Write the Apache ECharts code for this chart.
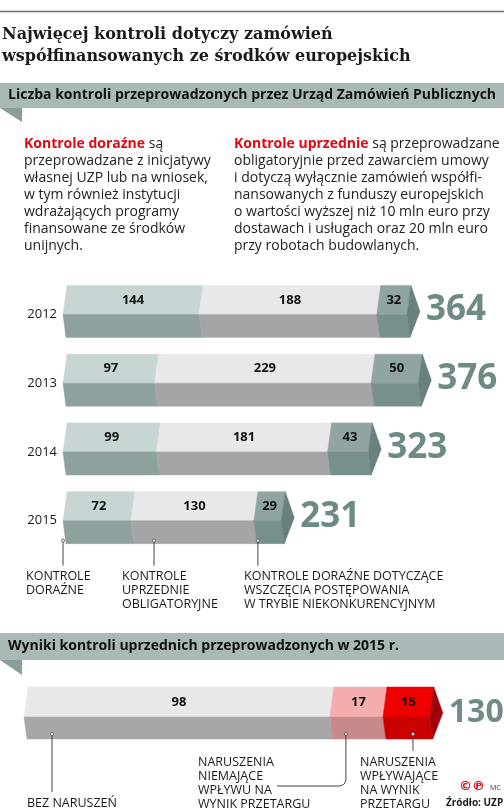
<!DOCTYPE html>
<html>
<head>
<meta charset="utf-8">
<script src="https://cdn.jsdelivr.net/npm/echarts@6/dist/echarts.min.js"></script>
<style>
  html, body { margin: 0; padding: 0; background: #fff; }
  #chart { width: 504px; height: 808px; }
</style>
</head>
<body>
<div id="chart"></div>
<script>
// dane: liczba kontroli UZP
const years = ['2012', '2013', '2014', '2015']
const dorazne = [144, 97, 99, 72]
const uprzednie = [188, 229, 181, 130]
const niekonkurencyjne = [32, 50, 43, 29]

// wyniki kontroli uprzednich w 2015 r.
const wynikiNames = ['BEZ NARUSZEŃ', 'NARUSZENIA NIEMAJĄCE WPŁYWU NA WYNIK PRZETARGU', 'NARUSZENIA WPŁYWAJĄCE NA WYNIK PRZETARGU']
const wyniki = [98, 17, 15]

const SANS = '"Open Sans", "DejaVu Sans", sans-serif'
const DT = 4 // przesuniecie gornej krawedzi (skos)
const DB = 3

function stack(rows) {
  const out = []
  rows.forEach((parts, r) => {
    let acc = 0
    parts.forEach((v, s) => {
      out.push([acc, acc + v, r, s, v])
      acc += v
    })
  })
  return out
}

const topRows = years.map((y, i) => [dorazne[i], uprzednie[i], niekonkurencyjne[i]])
const topTotals = topRows.map(p => p.reduce((a, b) => a + b, 0))
const bottomRows = [wyniki]
const bottomTotals = [wyniki.reduce((a, b) => a + b, 0)]

function prism(opts) {
  return function (params, api) {
    const start = api.value(0)
    const end = api.value(1)
    const row = api.value(2)
    const seg = api.value(3)
    const val = api.value(4)
    const a = api.coord([start, row])
    const b = api.coord([end, row])
    const xs = a[0]
    const xe = b[0]
    const ym = a[1]
    const yt = ym - opts.top
    const yb = ym + opts.front
    const c = opts.colors[seg]
    const children = [
      {
        type: 'polygon',
        shape: { points: [[xs + DT, yt], [xe + DT, yt], [xe, ym], [xs, ym]] },
        style: { fill: c[0], stroke: c[0], lineWidth: 0.5 }
      },
      {
        type: 'polygon',
        shape: { points: [[xs, ym], [xe, ym], [xe + DB, yb], [xs + DB, yb]] },
        style: { fill: c[1], stroke: c[1], lineWidth: 0.5 }
      }
    ]
    if (seg === opts.colors.length - 1) {
      const tip = xe + DT + 9
      children.push({
        type: 'polygon',
        shape: { points: [[xe + DT, yt], [tip, (yt + yb) / 2], [xe + DB, yb], [xe, ym]] },
        style: { fill: c[2], stroke: c[2], lineWidth: 0.5 }
      })
      children.push({
        type: 'text',
        style: {
          text: String(opts.totals[row]), x: tip + 6, y: ym - 4,
          align: 'left', verticalAlign: 'middle',
          font: 'bold ' + opts.totalSize + 'px ' + SANS, fill: opts.totalColor
        }
      })
    }
    children.push({
      type: 'text',
      style: {
        text: String(val), x: (xs + xe) / 2 + DT / 2, y: (yt + ym) / 2,
        align: 'center', verticalAlign: 'middle',
        font: 'bold 13px ' + SANS, fill: '#111'
      }
    })
    // wskazniki do opisow
    if (opts.pointers && row === opts.pointers.row) {
      const p = opts.pointers.items[seg]
      const px = xs + p.dx
      const py = yb - opts.pointers.inset
      if (p.curve) {
        children.push({
          type: 'polyline',
          shape: { points: [[px, py], [px, p.curve.y - 6], [px - 1, p.curve.y - 3], [px - 3, p.curve.y - 1], [px - 7, p.curve.y], [p.curve.x, p.curve.y]] },
          style: { stroke: '#444', lineWidth: 1, fill: null }
        })
      } else {
        children.push({
          type: 'line',
          shape: { x1: px, y1: py, x2: px, y2: py + p.len },
          style: { stroke: '#444', lineWidth: 1 }
        })
      }
      children.push({
        type: 'circle',
        shape: { cx: px, cy: py, r: 1.6 },
        style: { fill: '#eee', stroke: '#555', lineWidth: 0.8 }
      })
    }
    return { type: 'group', children }
  }
}

function txt(x, y, text, font, fill, extra) {
  return {
    type: 'text', x, y, z: 10,
    style: Object.assign({ text, font, fill, verticalAlign: 'middle' }, extra || {})
  }
}

const CAPS = '12.5px ' + SANS
const chart = echarts.init(document.getElementById('chart'))

chart.setOption({
  animation: false,
  grid: [
    { left: 63, top: 280, width: 378, height: 275 },
    { left: 24, top: 690, width: 437, height: 54 }
  ],
  xAxis: [
    { type: 'value', gridIndex: 0, min: 0, max: 400, show: false },
    { type: 'value', gridIndex: 1, min: 0, max: 140, show: false }
  ],
  yAxis: [
    {
      type: 'category', gridIndex: 0, data: years, inverse: true,
      axisLine: { show: false },
      axisTick: { show: false },
      splitLine: { show: false },
      axisLabel: { margin: 6, fontSize: 13, fontFamily: 'Open Sans', color: '#1a1a1a' }
    },
    { type: 'category', gridIndex: 1, data: ['2015'], show: false }
  ],
  graphic: [
    { type: 'line', shape: { x1: 0, y1: 11.5, x2: 504, y2: 11.5 }, style: { stroke: '#707070', lineWidth: 1.5 } },
    txt(2, 35, 'Najwięcej kontroli dotyczy zamówień', 'bold 16px "DejaVu Serif"', '#1a1a1a'),
    txt(2, 57, 'współfinansowanych ze środków europejskich', 'bold 16px "DejaVu Serif"', '#1a1a1a'),

    { type: 'rect', shape: { x: 0, y: 83, width: 504, height: 25 }, style: { fill: '#a9b9b7' } },
    { type: 'polygon', shape: { points: [[0, 108], [22, 108], [22, 122]] }, style: { fill: '#8a9d9b' } },
    txt(8, 95.5, 'Liczba kontroli przeprowadzonych przez Urząd Zamówień Publicznych', 'bold 14px ' + SANS, '#111'),

    {
      type: 'text', x: 24, y: 136, z: 10,
      style: {
        text: '{r|Kontrole doraźne} są\nprzeprowadzane z inicjatywy\nwłasnej UZP lub na wniosek,\nw tym również instytucji\nwdrażających programy\nfinansowane ze środków\nunijnych.',
        font: '14px ' + SANS, fill: '#222', lineHeight: 17, verticalAlign: 'top',
        rich: { r: { fontWeight: 'bold', fontSize: 14, fontFamily: 'Open Sans', fill: '#e30613', color: '#e30613', lineHeight: 17 } }
      }
    },
    {
      type: 'text', x: 234, y: 136, z: 10,
      style: {
        text: '{r|Kontrole uprzednie} są przeprowadzane\nobligatoryjnie przed zawarciem umowy\ni dotyczą wyłącznie zamówień współfi-\nnansowanych z funduszy europejskich\no wartości wyższej niż 10 mln euro przy\ndostawach i usługach oraz 20 mln euro\nprzy robotach budowlanych.',
        font: '14px ' + SANS, fill: '#222', lineHeight: 17, verticalAlign: 'top',
        rich: { r: { fontWeight: 'bold', fontSize: 14, fontFamily: 'Open Sans', fill: '#e30613', color: '#e30613', lineHeight: 17 } }
      }
    },

    txt(26, 569, 'KONTROLE\nDORAŹNE', CAPS, '#1a1a1a', { verticalAlign: 'top', lineHeight: 14 }),
    txt(122, 569, 'KONTROLE\nUPRZEDNIE\nOBLIGATORYJNE', CAPS, '#1a1a1a', { verticalAlign: 'top', lineHeight: 14 }),
    txt(244, 569, 'KONTROLE DORAŹNE DOTYCZĄCE\nWSZCZĘCIA POSTĘPOWANIA\nW TRYBIE NIEKONKURENCYJNYM', CAPS, '#1a1a1a', { verticalAlign: 'top', lineHeight: 14 }),

    { type: 'rect', shape: { x: 0, y: 633, width: 504, height: 27 }, style: { fill: '#a9b9b7' } },
    { type: 'polygon', shape: { points: [[0, 660], [22, 660], [22, 675]] }, style: { fill: '#8a9d9b' } },
    txt(8, 646.5, 'Wyniki kontroli uprzednich przeprowadzonych w 2015 r.', 'bold 14px ' + SANS, '#111'),

    txt(27, 803, wynikiNames[0], CAPS, '#1a1a1a'),
    txt(198, 755, 'NARUSZENIA\nNIEMAJĄCE\nWPŁYWU NA\nWYNIK PRZETARGU', CAPS, '#1a1a1a', { verticalAlign: 'top', lineHeight: 14 }),
    txt(360, 755, 'NARUSZENIA\nWPŁYWAJĄCE\nNA WYNIK\nPRZETARGU', CAPS, '#1a1a1a', { verticalAlign: 'top', lineHeight: 14 }),

    txt(459, 787, '©℗', 'bold 13px "DejaVu Sans"', '#e30613'),
    txt(490, 788, 'MC', '7px ' + SANS, '#333'),
    txt(446, 803, 'Źródło: UZP', 'bold 10px ' + SANS, '#1a1a1a')
  ],
  series: [
    {
      type: 'custom',
      name: 'Liczba kontroli',
      xAxisIndex: 0,
      yAxisIndex: 0,
      encode: { x: [0, 1], y: 2 },
      data: stack(topRows),
      renderItem: prism({
        top: 29,
        front: 23,
        totals: topTotals,
        totalSize: 35,
        totalColor: '#6d8a86',
        colors: [
          ['#c7d6d4', '#8fa19f'],
          ['#e8e8e8', '#a5a5a5'],
          ['#90a5a3', '#78908d', '#6a807e']
        ],
        pointers: {
          row: 3,
          inset: 3,
          items: [{ dx: 0, len: 25 }, { dx: 23, len: 25 }, { dx: 4, len: 25 }]
        }
      })
    },
    {
      type: 'custom',
      name: 'Wyniki kontroli uprzednich',
      xAxisIndex: 1,
      yAxisIndex: 1,
      encode: { x: [0, 1], y: 2 },
      data: stack(bottomRows),
      renderItem: prism({
        top: 30,
        front: 22,
        totals: bottomTotals,
        totalSize: 32,
        totalColor: '#708b88',
        colors: [
          ['#e8e8e8', '#a7a7a7'],
          ['#f4acad', '#c68a8b'],
          ['#ee0000', '#c80000', '#a0000a']
        ],
        pointers: {
          row: 0,
          inset: 5,
          items: [{ dx: 28, len: 58 }, { dx: 16, curve: { x: 277, y: 786 } }, { dx: 30, len: 17 }]
        }
      })
    }
  ]
})
</script>
</body>
</html>
